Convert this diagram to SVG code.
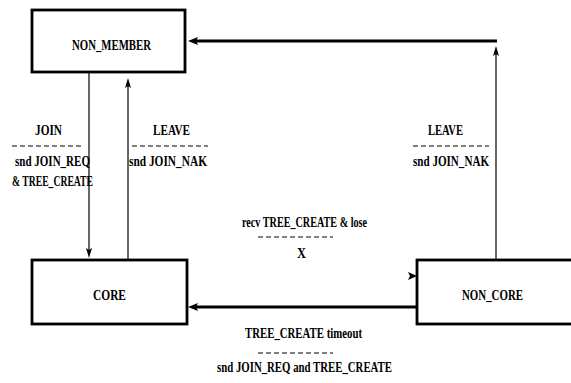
<svg xmlns="http://www.w3.org/2000/svg" width="571" height="383" viewBox="0 0 571 383">
<style>
.box{fill:#fff;stroke:#000;stroke-width:2.8}
.t{font-family:"Liberation Serif","Times New Roman",serif;font-weight:bold;font-size:14.5px;fill:#000}
.thin{stroke:#000;stroke-width:1.2;fill:none}
.thick{stroke:#000;stroke-width:3;fill:none}
.dash{stroke:#000;stroke-width:1.2;stroke-dasharray:5,3;fill:none}
.ah{fill:#000}
</style>
<rect width="571" height="383" fill="#fff"/>
<g id="connectors">
<line class="thin" x1="89" y1="72" x2="89" y2="252"/>
<polygon class="ah" points="89,258 86,248 89,250 92,248"/>
<line class="thin" x1="128" y1="260" x2="128" y2="84"/>
<polygon class="ah" points="128,78 125,88 128,86 131,88"/>
<line class="thin" x1="496" y1="260" x2="496" y2="52"/>
<polygon class="ah" points="496,46 493,56 496,54 499,56"/>
<line class="thick" x1="497" y1="41" x2="195" y2="41"/>
<polygon class="ah" points="188,41 198,37 196,41 198,45"/>
<line class="thick" x1="417" y1="307" x2="195" y2="307"/>
<polygon class="ah" points="188,307 198,303 196,307 198,311"/>
<polygon class="ah" points="417,276 408,272 410,276 408,280"/>
</g>
<g id="NON_MEMBER">
<rect class="box" x="32" y="10" width="153" height="62"/>
<text class="t" x="72" y="50" textLength="79" lengthAdjust="spacingAndGlyphs">NON_MEMBER</text>
</g>
<g id="CORE">
<rect class="box" x="32" y="260" width="155" height="64"/>
<text class="t" x="93" y="300" textLength="33" lengthAdjust="spacingAndGlyphs">CORE</text>
</g>
<g id="NON_CORE">
<rect class="box" x="417" y="260" width="170" height="64"/>
<text class="t" x="462" y="300" textLength="61" lengthAdjust="spacingAndGlyphs">NON_CORE</text>
</g>
<g id="labels">
<text class="t" x="35" y="135" textLength="27" lengthAdjust="spacingAndGlyphs">JOIN</text>
<line class="dash" x1="12" y1="146" x2="84" y2="146"/>
<text class="t" x="15" y="166" textLength="75" lengthAdjust="spacingAndGlyphs">snd JOIN_REQ</text>
<text class="t" x="12" y="186" textLength="81" lengthAdjust="spacingAndGlyphs">&amp; TREE_CREATE</text>

<text class="t" x="153" y="135" textLength="37" lengthAdjust="spacingAndGlyphs">LEAVE</text>
<line class="dash" x1="132" y1="146" x2="208" y2="146"/>
<text class="t" x="129" y="166" textLength="78" lengthAdjust="spacingAndGlyphs">snd JOIN_NAK</text>

<text class="t" x="428" y="135" textLength="35" lengthAdjust="spacingAndGlyphs">LEAVE</text>
<line class="dash" x1="413" y1="146" x2="489" y2="146"/>
<text class="t" x="413" y="166" textLength="76" lengthAdjust="spacingAndGlyphs">snd JOIN_NAK</text>

<text class="t" x="242" y="227" textLength="125" lengthAdjust="spacingAndGlyphs">recv TREE_CREATE &amp; lose</text>
<line class="dash" x1="258" y1="237" x2="333" y2="237"/>
<text class="t" x="297" y="258" textLength="9" lengthAdjust="spacingAndGlyphs">X</text>

<text class="t" x="245" y="338" textLength="117" lengthAdjust="spacingAndGlyphs">TREE_CREATE timeout</text>
<line class="dash" x1="258" y1="353" x2="333" y2="353"/>
<text class="t" x="217" y="372" textLength="175" lengthAdjust="spacingAndGlyphs">snd JOIN_REQ and TREE_CREATE</text>
</g>
</svg>
